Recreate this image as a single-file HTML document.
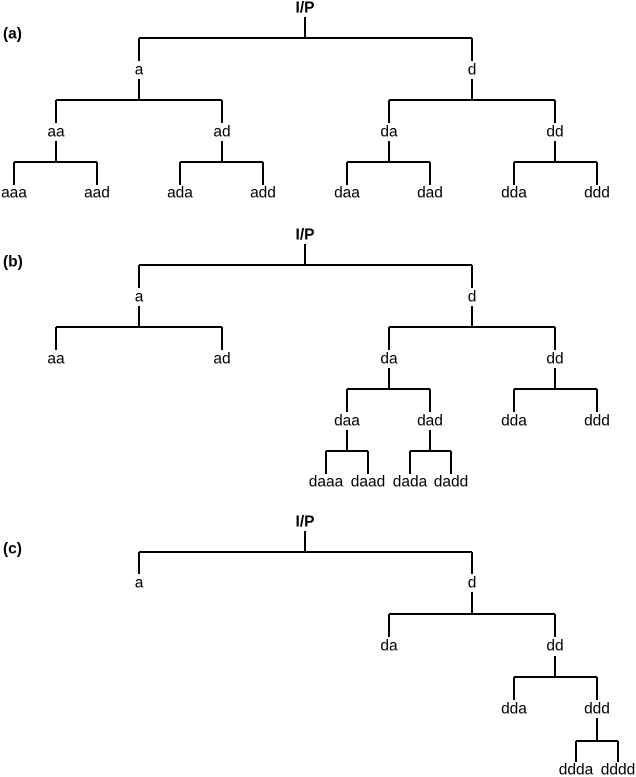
<!DOCTYPE html>
<html><head><style>
html,body{margin:0;padding:0;background:#fff;}
svg{display:block;}
text{font-family:"Liberation Sans",Arial,sans-serif;font-size:15.5px;fill:#000;text-anchor:middle;dominant-baseline:central;}
.b{font-weight:bold;}
.l{text-anchor:start;}
</style></head><body>
<svg width="636" height="777" viewBox="0 0 636 777" xmlns="http://www.w3.org/2000/svg">
<g stroke="#000" stroke-width="2" fill="none">
<path d="M305 17V38 M139 38H472 M139 38V61 M472 38V61"/>
<path d="M139 79V100 M56 100H222 M56 100V123 M222 100V123"/>
<path d="M472 79V100 M389 100H555 M389 100V123 M555 100V123"/>
<path d="M56 141V162 M14 162H97 M14 162V185 M97 162V185"/>
<path d="M222 141V162 M180 162H263 M180 162V185 M263 162V185"/>
<path d="M389 141V162 M347 162H430 M347 162V185 M430 162V185"/>
<path d="M555 141V162 M514 162H597 M514 162V185 M597 162V185"/>
<path d="M305 244V265 M139 265H472 M139 265V288 M472 265V288"/>
<path d="M139 306V327 M56 327H222 M56 327V350 M222 327V350"/>
<path d="M472 306V327 M389 327H555 M389 327V350 M555 327V350"/>
<path d="M389 368V389 M347 389H430 M347 389V412 M430 389V412"/>
<path d="M555 368V389 M514 389H597 M514 389V412 M597 389V412"/>
<path d="M347 430V451 M326 451H368 M326 451V474 M368 451V474"/>
<path d="M430 430V451 M410 451H451 M410 451V474 M451 451V474"/>
<path d="M305 531V552 M139 552H472 M139 552V574 M472 552V574"/>
<path d="M472 592V614 M389 614H555 M389 614V637 M555 614V637"/>
<path d="M555 656V677 M514 677H597 M514 677V700 M597 677V700"/>
<path d="M597 718V741 M576 741H618 M576 741V762 M618 741V762"/>
</g>
<text class="b l" x="3" y="34">(a)</text>
<text class="b" x="305" y="8">I/P</text>
<text x="139" y="70">a</text><text x="472" y="70">d</text>
<text x="56" y="132">aa</text><text x="222" y="132">ad</text>
<text x="389" y="132">da</text><text x="555" y="132">dd</text>
<text x="14" y="193">aaa</text><text x="97" y="193">aad</text>
<text x="180" y="193">ada</text><text x="263" y="193">add</text>
<text x="347" y="193">daa</text><text x="430" y="193">dad</text>
<text x="514" y="193">dda</text><text x="597" y="193">ddd</text>
<text class="b l" x="3" y="262">(b)</text>
<text class="b" x="305" y="235">I/P</text>
<text x="139" y="297">a</text><text x="472" y="297">d</text>
<text x="56" y="359">aa</text><text x="222" y="359">ad</text>
<text x="389" y="359">da</text><text x="555" y="359">dd</text>
<text x="347" y="421">daa</text><text x="430" y="421">dad</text>
<text x="514" y="421">dda</text><text x="597" y="421">ddd</text>
<text x="326" y="482">daaa</text><text x="368" y="482">daad</text>
<text x="410" y="482">dada</text><text x="451" y="482">dadd</text>
<text class="b l" x="3" y="549">(c)</text>
<text class="b" x="305" y="522">I/P</text>
<text x="139" y="583">a</text><text x="472" y="583">d</text>
<text x="389" y="646">da</text><text x="555" y="646">dd</text>
<text x="514" y="709">dda</text><text x="597" y="709">ddd</text>
<text x="576" y="770">ddda</text><text x="618" y="770">dddd</text>
</svg>
</body></html>
